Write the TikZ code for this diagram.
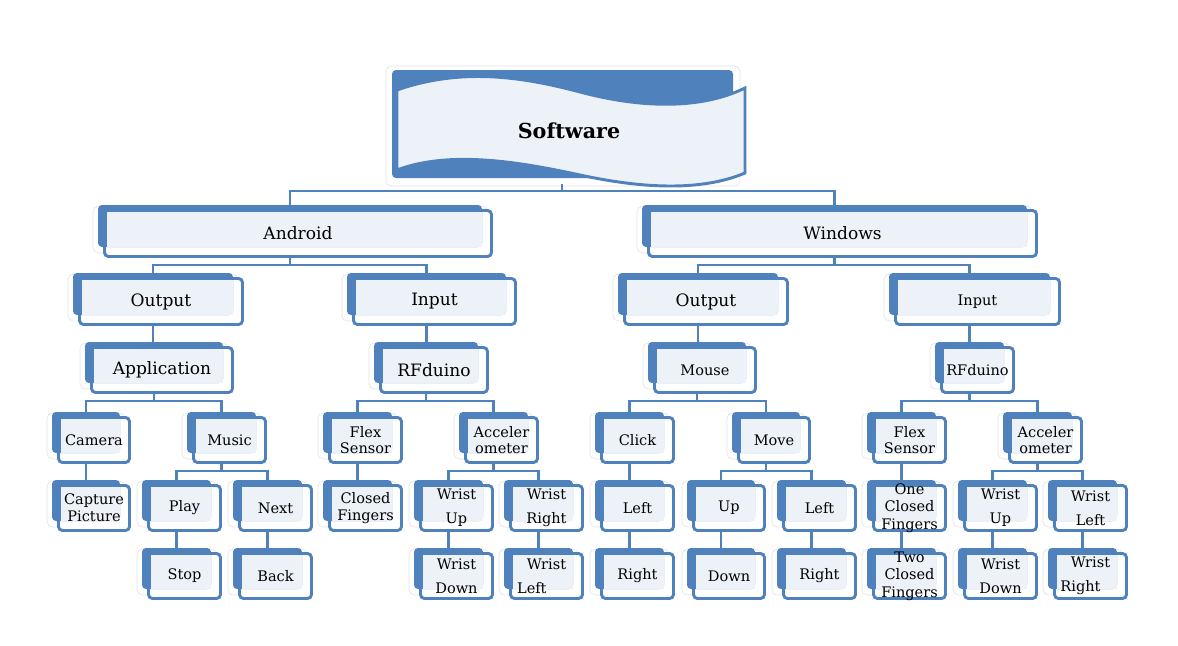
\documentclass[tikz,border=0pt]{standalone}
\usepackage{fontspec}
\setmainfont{DejaVu Serif}

\tikzset{
  boxhalo/.style={fill=white, draw={rgb, 255:red, 228; green, 228; blue, 228 }, line width=0.5pt, rounded corners=4pt},
  boxfront/.style={fill=white, draw={rgb, 255:red, 79; green, 129; blue, 189 }, line width=2.2pt, rounded corners=3pt},
  boxback/.style={fill={rgb, 255:red, 79; green, 129; blue, 189 }, rounded corners=3pt},
  boxinner/.style={fill={rgb, 255:red, 237; green, 242; blue, 249 }},
  boxtext/.style={inner sep=0pt, align=center, font=\fontsize{12.8}{15}\selectfont},
  smalltext/.style={font=\fontsize{10.9}{12.5}\selectfont},
  wristtext/.style={font=\fontsize{10.9}{18}\selectfont},
  threetext/.style={font=\fontsize{10.9}{13}\selectfont},
  link/.style={draw={rgb, 255:red, 79; green, 129; blue, 189 }, line width=2.2pt}
}

% #1 extra text style, #2 name, #3..#6 back box corners, #7 text
\newcommand{\orgbox}[7][]{%
  \draw[boxhalo] (#3-5,#4+1) rectangle (#5+5,#6+6);
  \draw[boxfront] (#3+6.5,#4+5.5) rectangle (#5+9.5,#6+9.5);
  \fill[boxback] (#3,#4) rectangle (#5,#6);
  \fill[boxinner] (#3+9,#4+7) rectangle (#5,#6);
  \node[boxtext,#1] (#2) at ({(#3+#5)/2+8},{(#4+#6)/2+7.5}) {#7};
  \coordinate (#2-up) at ({(#3+#5)/2},#4);
  \coordinate (#2-dn) at ({(#3+#5)/2},#6+11);
}

\begin{document}
\begin{tikzpicture}[x=0.75pt,y=0.75pt,yscale=-1,xscale=1]
\useasboundingbox (0,0) rectangle (1178,646);

%Shape: Wave [id:software]
\draw[boxhalo] (386,66) rectangle (740,186);
\fill[boxback] (392,70) rectangle (733,178);
\draw[boxfront, fill={rgb, 255:red, 237; green, 242; blue, 249 }, rounded corners=0pt] (397,90) .. controls (460,68) and (520,76) .. (580,92) .. controls (640,108) and (700,110) .. (745,88) -- (745,173) .. controls (700,192) and (640,188) .. (580,175) .. controls (520,162) and (450,150) .. (397,170) -- cycle ;
\node[inner sep=0pt, font=\fontsize{15.5}{18}\selectfont\bfseries] (software) at (569,131) {Software};
\coordinate (software-dn) at (562,184);

% Android / Windows
\orgbox{android}{98}{205}{482}{247}{Android}
\orgbox{windows}{642}{205}{1027}{247}{Windows}

\orgbox{aout}{73}{273}{233}{315}{Output}
\orgbox{ain}{347}{273}{506}{315}{Input}
\orgbox{wout}{618}{273}{778}{315}{Output}
\orgbox[smalltext]{win}{889}{273}{1050}{315}{Input}

\orgbox{app}{85}{342}{223}{383}{Application}
\orgbox{arf}{374}{342}{478}{383}{RFduino}
\orgbox[smalltext]{mouse}{648}{342}{746}{383}{Mouse}
\orgbox[smalltext]{wrf}{935}{342}{1004}{383}{RFduino}

\orgbox[smalltext]{camera}{52}{412}{120}{453}{Camera}
\orgbox[smalltext]{music}{187}{412}{256}{453}{Music}
\orgbox[smalltext]{aflex}{323}{412}{392}{453}{Flex\\Sensor}
\orgbox[smalltext]{aacc}{459}{412}{528}{453}{Acceler\\ometer}
\orgbox[smalltext]{click}{595}{412}{664}{453}{Click}
\orgbox[smalltext]{move}{732}{412}{800}{453}{Move}
\orgbox[smalltext]{wflex}{867}{412}{936}{453}{Flex\\Sensor}
\orgbox[smalltext]{wacc}{1003}{412}{1072}{453}{Acceler\\ometer}

\orgbox[smalltext]{capture}{52}{480}{120}{521}{Capture\\Picture}
\orgbox[smalltext]{play}{142}{480}{211}{521}{Play}
\orgbox[smalltext]{next}{233}{480}{302}{521}{Next}
\orgbox[smalltext]{closed}{323}{480}{392}{521}{Closed\\Fingers}
\orgbox[wristtext]{awup}{414}{480}{483}{521}{Wrist\\Up}
\orgbox[wristtext]{awright}{504}{480}{573}{521}{Wrist\\Right}
\orgbox[smalltext]{cleft}{595}{480}{664}{521}{Left}
\orgbox[smalltext]{up}{687}{480}{755}{521}{Up}
\orgbox[smalltext]{mleft}{777}{480}{846}{521}{Left}
\orgbox[threetext]{oneclosed}{867}{480}{936}{521}{One\\Closed\\Fingers}
\orgbox[wristtext]{wwup}{958}{480}{1027}{521}{Wrist\\Up}
\orgbox[wristtext]{wwleft}{1048}{480}{1117}{521}{Wrist\\Left}

\orgbox[smalltext]{stop}{142}{548}{211}{589}{Stop}
\orgbox[smalltext]{mback}{233}{548}{302}{589}{Back}
\orgbox[wristtext]{awdown}{414}{548}{483}{589}{Wrist\\Down}
\orgbox[wristtext]{awleft}{504}{548}{573}{589}{Wrist\\Left\hspace*{22pt}}
\orgbox[smalltext]{cright}{595}{548}{664}{589}{Right}
\orgbox[smalltext]{down}{687}{548}{755}{589}{Down}
\orgbox[smalltext]{mright}{777}{548}{846}{589}{Right}
\orgbox[threetext]{twoclosed}{867}{548}{936}{589}{Two\\Closed\\Fingers}
\orgbox[wristtext]{wwdown}{958}{548}{1027}{589}{Wrist\\Down}
\orgbox[wristtext]{wwright}{1048}{548}{1117}{589}{Wrist\\Right\hspace*{15pt}}

%Straight Lines: branches
\foreach \p/\a/\b in {software/android/windows, android/aout/ain, windows/wout/win,
    app/camera/music, arf/aflex/aacc, mouse/click/move, wrf/wflex/wacc,
    music/play/next, aacc/awup/awright, move/up/mleft, wacc/wwup/wwleft}
  {\draw[link] (\p-dn) -- ++(0,7) -| (\a-up);
   \draw[link] (\p-dn) -- ++(0,7) -| (\b-up);}
%Straight Lines: single child
\foreach \p/\c in {aout/app, ain/arf, wout/mouse, win/wrf, camera/capture,
    play/stop, next/mback, aflex/closed, awup/awdown, awright/awleft,
    click/cleft, cleft/cright, up/down, mleft/mright, wflex/oneclosed,
    oneclosed/twoclosed, wwup/wwdown, wwleft/wwright}
  {\draw[link] (\p-dn) -- (\p-dn |- \c-up);}

\end{tikzpicture}
\end{document}
